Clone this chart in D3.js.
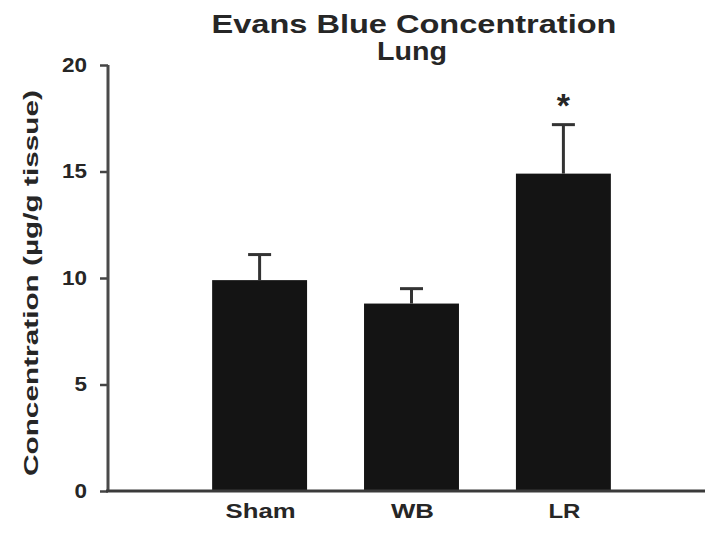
<!DOCTYPE html>
<html>
<head>
<meta charset="utf-8">
<script src="https://cdn.jsdelivr.net/npm/d3@7"></script>
<style>
  html, body { margin: 0; padding: 0; background: #ffffff; }
  svg { display: block; }
  text { font-family: "Liberation Sans", Arial, sans-serif; font-weight: bold; fill: #262626; }
</style>
</head>
<body>
<svg id="chart" width="708" height="535"></svg>
<script>
// ---- data ----
const categories = ["Sham", "WB", "LR"];
const means = [9.9, 8.8, 14.9];
const sems = [1.2, 0.7, 2.3];
const significant = [false, false, true];
const yTicks = [0, 5, 10, 15, 20];
const titleLines = ["Evans Blue Concentration", "Lung"];
const yLabel = "Concentration (\u00b5g/g tissue)";

// ---- layout ----
const svg = d3.select("#chart");
const yAxisX = 108, xAxisEnd = 705;
const y = d3.scaleLinear().domain([0, 20]).range([491, 65]);
const x = d3.scaleBand().domain(categories).range([121, 702]).paddingInner(0.375).paddingOuter(0.6);

// title
const titleSpecs = [{ y: 33, len: 405, cx: 414 }, { y: 60, len: 70, cx: 412 }];
titleLines.forEach((t, i) => {
  svg.append("text")
    .attr("x", titleSpecs[i].cx).attr("y", titleSpecs[i].y)
    .attr("text-anchor", "middle")
    .attr("font-size", 25)
    .attr("textLength", titleSpecs[i].len)
    .attr("lengthAdjust", "spacingAndGlyphs")
    .text(t);
});

// bars
const data = categories.map((c, i) => ({ c, m: means[i], e: sems[i], s: significant[i] }));
svg.append("g").selectAll("rect").data(data).join("rect")
  .attr("x", d => x(d.c))
  .attr("y", d => y(d.m))
  .attr("width", x.bandwidth())
  .attr("height", d => y(0) - y(d.m))
  .attr("fill", "#141414");

// error bars (upper only)
const eb = svg.append("g").attr("stroke", "#333").attr("stroke-width", 3);
data.forEach(d => {
  const cx = x(d.c) + x.bandwidth() / 2;
  eb.append("line").attr("x1", cx).attr("x2", cx).attr("y1", y(d.m)).attr("y2", y(d.m + d.e));
  eb.append("line").attr("x1", cx - 11.5).attr("x2", cx + 11.5).attr("y1", y(d.m + d.e)).attr("y2", y(d.m + d.e));
});

// significance marker
data.filter(d => d.s).forEach(d => {
  svg.append("text")
    .attr("x", x(d.c) + x.bandwidth() / 2)
    .attr("y", y(d.m + d.e) - 8)
    .attr("text-anchor", "middle")
    .attr("font-size", 34)
    .text("*");
});

// y axis
const yAxis = svg.append("g").attr("transform", `translate(${yAxisX},0)`)
  .call(d3.axisLeft(y).tickValues(yTicks).tickSize(8).tickPadding(13).tickSizeOuter(0));
yAxis.select(".domain").remove();
yAxis.selectAll(".tick line").attr("stroke", "#444").attr("stroke-width", 2.5);
yAxis.selectAll(".tick text")
  .attr("font-size", 19.5)
  .attr("font-family", "Liberation Sans, Arial, sans-serif")
  .attr("font-weight", "bold")
  .attr("fill", "#262626")
  .attr("textLength", d => String(d).length * 12.5)
  .attr("lengthAdjust", "spacingAndGlyphs");
svg.append("line")
  .attr("x1", yAxisX).attr("x2", yAxisX)
  .attr("y1", y(20)).attr("y2", y(0) + 1)
  .attr("stroke", "#4a4a4a").attr("stroke-width", 3);

// x axis line
svg.append("line")
  .attr("x1", yAxisX - 2).attr("x2", xAxisEnd)
  .attr("y1", y(0)).attr("y2", y(0))
  .attr("stroke", "#3a3a3a").attr("stroke-width", 3);

// category labels
const catLen = { "Sham": 70, "WB": 43, "LR": 32 };
svg.append("g").selectAll("text").data(categories).join("text")
  .attr("x", d => x(d) + x.bandwidth() / 2 + 1)
  .attr("y", 518)
  .attr("text-anchor", "middle")
  .attr("font-size", 21)
  .attr("textLength", d => catLen[d])
  .attr("lengthAdjust", "spacingAndGlyphs")
  .text(d => d);

// y label
svg.append("text")
  .attr("transform", `translate(38,${(y(0) + y(20)) / 2 + 5}) rotate(-90)`)
  .attr("text-anchor", "middle")
  .attr("font-size", 21)
  .attr("textLength", 386)
  .attr("lengthAdjust", "spacingAndGlyphs")
  .text(yLabel);
</script>
</body>
</html>
